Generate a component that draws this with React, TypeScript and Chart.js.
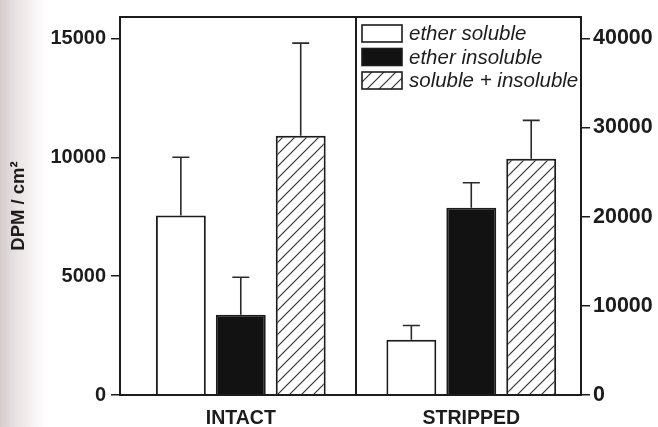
import React, { useEffect, useRef } from 'react';
import { Chart, registerables, CategoryScale } from 'chart.js';

Chart.register(...registerables);

const categories = ['INTACT', 'STRIPPED'];
const seriesNames = ['ether soluble', 'ether insoluble', 'soluble + insoluble'];
const intactValues = [7550, 3380, 10900];
const intactErrors = [2450, 1570, 3900];
const strippedValues = [6200, 21000, 26500];
const strippedErrors = [1600, 2800, 4300];
const leftTicks = [0, 5000, 10000, 15000];
const rightTicks = [0, 10000, 20000, 30000, 40000];
const leftAxisMax = 15900;
const rightAxisMax = 42400;
const axisTitle = 'DPM / cm²';

const FONT = "'Liberation Sans', Arial, Helvetica, sans-serif";
const INK = '#1c1c1c';

// Category scale whose panels are slightly unequal (left panel a bit wider than right)
class PanelCategoryScale extends (CategoryScale as any) {
  static id = 'panelCategory';
  static defaults = (CategoryScale as any).defaults;
  buildTicks() {
    const ticks = super.buildTicks();
    (this as any)._startValue -= 0.024;
    return ticks;
  }
}
Chart.register(PanelCategoryScale as any);

function makeHatch(): CanvasPattern {
  const s = 12;
  const c = document.createElement('canvas');
  c.width = s;
  c.height = s;
  const g = c.getContext('2d')!;
  g.fillStyle = '#ffffff';
  g.fillRect(0, 0, s, s);
  g.strokeStyle = '#333333';
  g.lineWidth = 1.2;
  g.beginPath();
  g.moveTo(-1, s + 1);
  g.lineTo(s + 1, -1);
  g.moveTo(-1, 1);
  g.lineTo(1, -1);
  g.moveTo(s - 1, s + 1);
  g.lineTo(s + 1, s - 1);
  g.stroke();
  return g.createPattern(c, 'repeat')!;
}

const framePlugin = {
  id: 'frame',
  afterDatasetsDraw(chart: any) {
    const { ctx, chartArea: a } = chart;
    ctx.save();
    ctx.strokeStyle = INK;
    ctx.lineWidth = 2;
    ctx.strokeRect(a.left, a.top, a.right - a.left, a.bottom - a.top);
    ctx.restore();
  },
};

const errorBarPlugin = {
  id: 'errorBars',
  afterDatasetsDraw(chart: any) {
    const { ctx } = chart;
    ctx.save();
    ctx.strokeStyle = '#2a2a2a';
    ctx.lineWidth = 1.6;
    chart.data.datasets.forEach((ds: any, di: number) => {
      const meta = chart.getDatasetMeta(di);
      const scale = chart.scales[ds.yAxisID];
      meta.data.forEach((el: any, i: number) => {
        const v = ds.data[i];
        const e = ds.errors[i];
        if (v == null || e == null) return;
        const yTop = scale.getPixelForValue(v + e);
        ctx.beginPath();
        ctx.moveTo(el.x, el.y);
        ctx.lineTo(el.x, yTop);
        ctx.moveTo(el.x - 8.5, yTop);
        ctx.lineTo(el.x + 8.5, yTop);
        ctx.stroke();
      });
    });
    ctx.restore();
  },
};

const legendPlugin = {
  id: 'innerLegend',
  afterDraw(chart: any) {
    const { ctx, chartArea: a } = chart;
    const x = a.right - 219;
    const tops = [8, 31.5, 55];
    const fills = chart.data.datasets.slice(0, 3).map((d: any) => d.backgroundColor);
    ctx.save();
    seriesNames.forEach((name, i) => {
      const y = a.top + tops[i];
      ctx.fillStyle = fills[i];
      ctx.fillRect(x, y, 40, 17);
      ctx.strokeStyle = INK;
      ctx.lineWidth = 1.6;
      ctx.strokeRect(x, y, 40, 17);
      ctx.fillStyle = INK;
      ctx.font = `italic 20.5px ${FONT}`;
      ctx.textBaseline = 'middle';
      ctx.textAlign = 'left';
      ctx.fillText(name, x + 47, y + 9.5);
    });
    ctx.restore();
  },
};

export default function App() {
  const ref = useRef<HTMLCanvasElement>(null);

  useEffect(() => {
    const hatch = makeHatch();
    const fills: any[] = ['#ffffff', '#121212', hatch];
    const datasets: any[] = [];
    seriesNames.forEach((name, i) => {
      datasets.push({
        label: name,
        data: [intactValues[i], null],
        errors: [intactErrors[i], null],
        yAxisID: 'y',
        backgroundColor: fills[i],
        borderColor: INK,
        borderWidth: 2,
      });
    });
    seriesNames.forEach((name, i) => {
      datasets.push({
        label: name,
        data: [null, strippedValues[i]],
        errors: [null, strippedErrors[i]],
        yAxisID: 'y2',
        backgroundColor: fills[i],
        borderColor: INK,
        borderWidth: 2,
      });
    });

    const tickFont = (size: number) => ({ family: FONT, size, weight: 'bold' as const });

    const chart = new Chart(ref.current!, {
      type: 'bar',
      data: { labels: categories, datasets },
      plugins: [framePlugin, errorBarPlugin, legendPlugin],
      options: {
        responsive: false,
        animation: false,
        events: [],
        layout: { padding: { top: 13, left: 0, right: 0, bottom: 0 } },
        datasets: {
          bar: { categoryPercentage: 0.78, barPercentage: 0.833, skipNull: true },
        },
        plugins: {
          legend: { display: false },
          tooltip: { enabled: false },
        },
        scales: {
          x: {
            type: 'panelCategory',
            offset: true,
            grid: {
              offset: true,
              drawTicks: false,
              color: (c: any) => (c.index === 1 ? INK : 'rgba(0,0,0,0)'),
              lineWidth: 2,
            },
            border: { display: false },
            ticks: { font: tickFont(19.5), color: INK, padding: 12 },
            afterFit: (s: any) => {
              s.height = 32;
            },
          },
          y: {
            position: 'left',
            min: 0,
            max: leftAxisMax,
            afterBuildTicks: (s: any) => {
              s.ticks = leftTicks.map((v) => ({ value: v }));
            },
            grid: { drawOnChartArea: false, drawTicks: true, tickLength: 9, color: INK, lineWidth: 1.5 },
            border: { display: false },
            ticks: { font: tickFont(20), color: INK, padding: 5, callback: (v: any) => String(v) },
            title: {
              display: true,
              text: axisTitle,
              color: INK,
              font: { family: FONT, size: 18.5, weight: 'bold' },
              padding: { top: 8, bottom: 0 },
            },
            afterFit: (s: any) => {
              s.width = 120;
            },
          },
          y2: {
            position: 'right',
            min: 0,
            max: rightAxisMax,
            afterBuildTicks: (s: any) => {
              s.ticks = rightTicks.map((v) => ({ value: v }));
            },
            grid: { drawOnChartArea: false, drawTicks: true, tickLength: 9, color: INK, lineWidth: 1.5 },
            border: { display: false },
            ticks: { font: tickFont(21.5), color: INK, padding: 3, callback: (v: any) => String(v) },
            afterFit: (s: any) => {
              s.width = 77;
            },
          },
        },
      } as any,
    });
    return () => chart.destroy();
  }, []);

  return (
    <div
      style={{
        position: 'absolute',
        left: 0,
        top: 0,
        width: 658,
        height: 427,
        background: 'linear-gradient(to right, #d6cccc 0px, #ebe5e5 18px, #ffffff 46px)',
      }}
    >
      <canvas ref={ref} width={658} height={427} style={{ display: 'block' }} />
    </div>
  );
}
